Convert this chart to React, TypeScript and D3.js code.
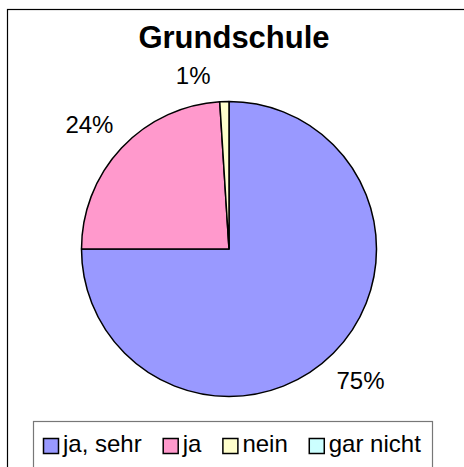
import { useEffect, useRef } from "react";
import * as d3 from "d3";

const title = "Grundschule";
const categories = ["ja, sehr", "ja", "nein", "gar nicht"];
const shares = [75, 24, 1, 0];
const sliceColors = ["#9999FF", "#FF99CC", "#FFFFCC", "#CCFFFF"];

const width = 464;
const height = 467;
const font = "'Liberation Sans', Arial, sans-serif";

export default function App() {
  const ref = useRef<SVGSVGElement>(null);

  useEffect(() => {
    draw();
  });

  function draw() {
    const svg = d3.select(ref.current);
    svg.selectAll("*").remove();

    // chart frame (right/bottom edges run off the picture)
    svg
      .append("rect")
      .attr("x", 7.5)
      .attr("y", 9.5)
      .attr("width", 480)
      .attr("height", 480)
      .attr("fill", "white")
      .attr("stroke", "#000")
      .attr("stroke-width", 1.2);

    svg
      .append("text")
      .attr("x", 234)
      .attr("y", 48)
      .attr("text-anchor", "middle")
      .attr("font-family", font)
      .attr("font-weight", 700)
      .attr("font-size", 31)
      .text(title);

    const cx = 229;
    const cy = 249;
    const radius = 147.5;

    const pie = d3
      .pie<number>()
      .sort(null)
      .value((d) => d);
    const arcs = pie(shares);
    const arc = d3.arc<d3.PieArcDatum<number>>().innerRadius(0).outerRadius(radius);

    const plot = svg.append("g").attr("transform", "translate(" + cx + "," + cy + ")");

    plot
      .selectAll("path")
      .data(arcs.filter((d) => d.value > 0))
      .enter()
      .append("path")
      .attr("d", arc)
      .attr("fill", (d) => sliceColors[d.index])
      .attr("stroke", "#000")
      .attr("stroke-width", 1.5)
      .attr("stroke-linejoin", "round");

    // percentage labels outside the slices
    const labelArc = d3.arc<d3.PieArcDatum<number>>().innerRadius(186).outerRadius(186);
    arcs
      .filter((d) => d.value > 0)
      .forEach((d) => {
        let [lx, ly] = labelArc.centroid(d);
        if (d.value < 2) {
          // Excel nudged the tiny-slice label aside
          lx -= 30;
          ly += 12;
        } else if (lx < 0) {
          lx -= 4;
          ly += 3;
        }
        plot
          .append("text")
          .attr("x", lx)
          .attr("y", ly)
          .attr("text-anchor", "middle")
          .attr("dominant-baseline", "central")
          .attr("font-family", font)
          .attr("font-size", 24)
          .text(d.value + "%");
      });

    // legend
    const legend = svg.append("g");
    legend
      .append("rect")
      .attr("x", 33.5)
      .attr("y", 421.5)
      .attr("width", 399)
      .attr("height", 80)
      .attr("fill", "white")
      .attr("stroke", "#777")
      .attr("stroke-width", 1.2);

    let x = 43;
    const sw = 15;
    categories.forEach((name, i) => {
      legend
        .append("rect")
        .attr("x", x + 0.5)
        .attr("y", 438.5)
        .attr("width", sw)
        .attr("height", sw)
        .attr("fill", sliceColors[i])
        .attr("stroke", "#000")
        .attr("stroke-width", 1.5);
      const t = legend
        .append("text")
        .attr("x", x + sw + 5)
        .attr("y", 452)
        .attr("font-family", font)
        .attr("font-size", 24)
        .text(name);
      const len = (t.node() as SVGTextElement).getComputedTextLength();
      x += sw + 5 + len + 21;
    });
  }

  return (
    <svg
      ref={ref}
      width={width}
      height={height}
      style={{ position: "absolute", left: 0, top: 0, background: "white" }}
    ></svg>
  );
}
